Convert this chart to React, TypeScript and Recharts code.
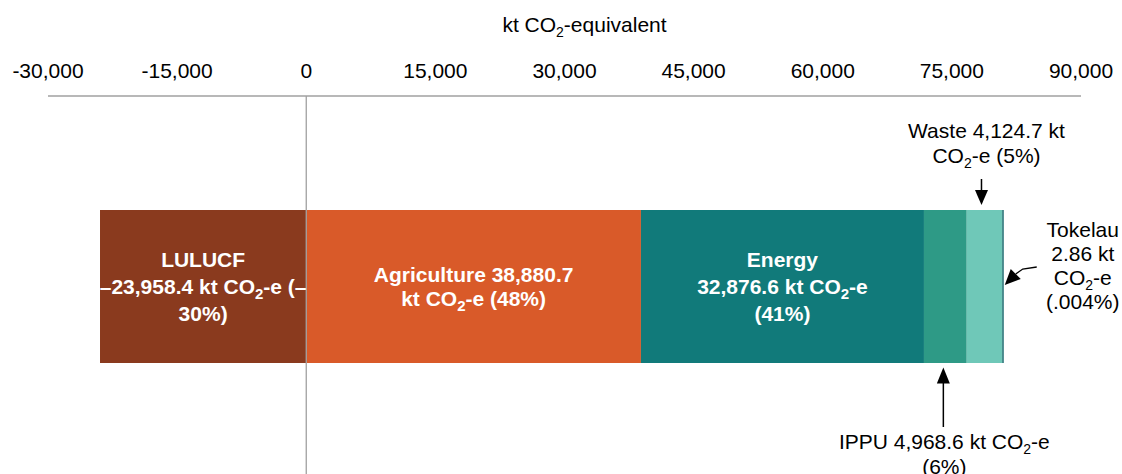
import React from 'react';
import { BarChart, Bar, XAxis, YAxis, ReferenceLine, LabelList } from 'recharts';

const categories = ['Emissions'];
const lulucf = [-23958.4];
const agriculture = [38880.7];
const energy = [32876.6];
const ippu = [4968.6];
const waste = [4124.7];
const tokelau = [2.86];
const xTicks = [-30000, -15000, 0, 15000, 30000, 45000, 60000, 75000, 90000];
const axisTitle = 'kt CO₂-equivalent';
const lulucfLabel = ['LULUCF', '–23,958.4 kt CO₂-e (–', '30%)'];
const agricultureLabel = ['Agriculture 38,880.7', 'kt CO₂-e (48%)'];
const energyLabel = ['Energy', '32,876.6 kt CO₂-e', '(41%)'];
const ippuLabel = ['IPPU 4,968.6 kt CO₂-e', '(6%)'];
const wasteLabel = ['Waste 4,124.7 kt', 'CO₂-e (5%)'];
const tokelauLabel = ['Tokelau', '2.86 kt', 'CO₂-e', '(.004%)'];

const COLORS = {
  lulucf: '#8A3A1E',
  agriculture: '#D95A29',
  energy: '#117A7A',
  ippu: '#2E9A86',
  waste: '#6FC8B8',
  tokelau: '#1A6A6E',
};

const FONT = '"Liberation Sans", Arial, Helvetica, sans-serif';

const data = categories.map((name, i) => ({
  name,
  LULUCF: lulucf[i],
  Agriculture: agriculture[i],
  Energy: energy[i],
  IPPU: ippu[i],
  Waste: waste[i],
  Tokelau: tokelau[i],
}));

function richLine(line: string, key: number, x: number, y: number, subSize: number, subDy: number) {
  const parts = line.split('₂');
  return (
    <tspan key={key} x={x} y={y}>
      {parts[0]}
      {parts.length > 1 ? (
        <>
          <tspan dy={subDy} fontSize={subSize}>2</tspan>
          <tspan dy={-subDy}>{parts[1]}</tspan>
        </>
      ) : null}
    </tspan>
  );
}

const innerLabel = (lines: string[], spacing: number) => (props: any) => {
  const x = Number(props.x);
  const y = Number(props.y);
  const w = Number(props.width);
  const h = Number(props.height);
  const cx = x + w / 2;
  const cy = y + h / 2;
  const first = cy + 7.5 - ((lines.length - 1) * spacing) / 2;
  return (
    <text textAnchor="middle" fill="#ffffff" fontWeight="bold" fontSize={21} fontFamily={FONT}>
      {lines.map((l, i) => richLine(l, i, cx, first + i * spacing, 15, 5))}
    </text>
  );
};

const wasteAnnotation = (props: any) => {
  const x = Number(props.x);
  const y = Number(props.y);
  const w = Number(props.width);
  const cx = x + w / 2 - 3;
  const tip = y - 5;
  return (
    <g>
      <text textAnchor="middle" fill="#000" fontSize={21} fontFamily={FONT}>
        {wasteLabel.map((l, i) => richLine(l, i, cx + 5, y - 72 + i * 25, 14, 5))}
      </text>
      <line x1={cx} y1={y - 31} x2={cx} y2={tip - 12} stroke="#000" strokeWidth={1.5} />
      <polygon points={`${cx - 6.5},${tip - 15} ${cx + 6.5},${tip - 15} ${cx},${tip}`} fill="#000" />
    </g>
  );
};

const ippuAnnotation = (props: any) => {
  const x = Number(props.x);
  const y = Number(props.y);
  const w = Number(props.width);
  const h = Number(props.height);
  const cx = x + w / 2 - 2;
  const bottom = y + h;
  const tip = bottom + 4.5;
  return (
    <g>
      <line x1={cx} y1={tip + 12} x2={cx} y2={bottom + 64} stroke="#000" strokeWidth={1.5} />
      <polygon points={`${cx - 6.5},${tip + 16} ${cx + 6.5},${tip + 16} ${cx},${tip}`} fill="#000" />
      <text textAnchor="middle" fill="#000" fontSize={21} fontFamily={FONT}>
        {ippuLabel.map((l, i) => richLine(l, i, cx + 1, bottom + 86 + i * 25, 14, 5))}
      </text>
    </g>
  );
};

const tokelauAnnotation = (props: any) => {
  const x = Number(props.x);
  const y = Number(props.y);
  const w = Number(props.width);
  const right = x + w;
  const tipX = right + 1;
  const tipY = y + 75;
  const bx = tipX + 11;
  const by = tipY - 11;
  return (
    <g>
      <polyline
        points={`${bx},${by} ${right + 19},${y + 59} ${right + 33},${y + 57}`}
        fill="none"
        stroke="#000"
        strokeWidth={1.3}
      />
      <polygon
        points={`${bx + 5},${by + 5} ${bx - 5},${by - 5} ${tipX},${tipY}`}
        fill="#000"
      />
      <text textAnchor="middle" fill="#000" fontSize={21} fontFamily={FONT}>
        {tokelauLabel.map((l, i) => richLine(l, i, right + 79, y + 27 + i * 24, 14, 5))}
      </text>
    </g>
  );
};

const titleLabel = (props: any) => {
  const vb = props.viewBox || {};
  const cx = Number(vb.x) + Number(vb.width) / 2 + 20;
  return (
    <text textAnchor="middle" fill="#000" fontSize={21} fontFamily={FONT}>
      {richLine(axisTitle, 0, cx, 31.5, 14, 5)}
    </text>
  );
};

export default function App() {
  return (
    <div style={{ position: 'absolute', left: 0, top: 0, width: 1122, height: 474, background: '#fff' }}>
      <BarChart
        width={1122}
        height={474}
        data={data}
        layout="vertical"
        stackOffset="sign"
        margin={{ top: 0, right: 41, bottom: -3, left: 48 }}
        barSize={153}
      >
        <XAxis
          type="number"
          orientation="top"
          domain={[-30000, 90000]}
          ticks={xTicks}
          interval={0}
          height={96}
          axisLine={{ stroke: '#a0a0a0', strokeWidth: 1.3 }}
          tickLine={false}
          tickSize={0}
          tickMargin={18}
          tick={{ fill: '#000', fontSize: 21, fontFamily: FONT }}
          tickFormatter={(v: number) => v.toLocaleString('en-US')}
          label={{ content: titleLabel }}
          allowDataOverflow
        />
        <YAxis type="category" dataKey="name" hide width={0} />
        <Bar dataKey="LULUCF" stackId="a" fill={COLORS.lulucf} isAnimationActive={false}>
          <LabelList dataKey="LULUCF" content={innerLabel(lulucfLabel, 26.7)} />
        </Bar>
        <Bar dataKey="Agriculture" stackId="a" fill={COLORS.agriculture} isAnimationActive={false}>
          <LabelList dataKey="Agriculture" content={innerLabel(agricultureLabel, 24)} />
        </Bar>
        <Bar dataKey="Energy" stackId="a" fill={COLORS.energy} isAnimationActive={false}>
          <LabelList dataKey="Energy" content={innerLabel(energyLabel, 26.7)} />
        </Bar>
        <Bar dataKey="IPPU" stackId="a" fill={COLORS.ippu} isAnimationActive={false}>
          <LabelList dataKey="IPPU" content={ippuAnnotation} />
        </Bar>
        <Bar dataKey="Waste" stackId="a" fill={COLORS.waste} isAnimationActive={false}>
          <LabelList dataKey="Waste" content={wasteAnnotation} />
        </Bar>
        <Bar dataKey="Tokelau" stackId="a" fill={COLORS.tokelau} minPointSize={1.5} isAnimationActive={false}>
          <LabelList dataKey="Tokelau" content={tokelauAnnotation} />
        </Bar>
        <ReferenceLine x={0} stroke="#a0a0a0" strokeWidth={1.3} ifOverflow="visible" />
      </BarChart>
    </div>
  );
}
